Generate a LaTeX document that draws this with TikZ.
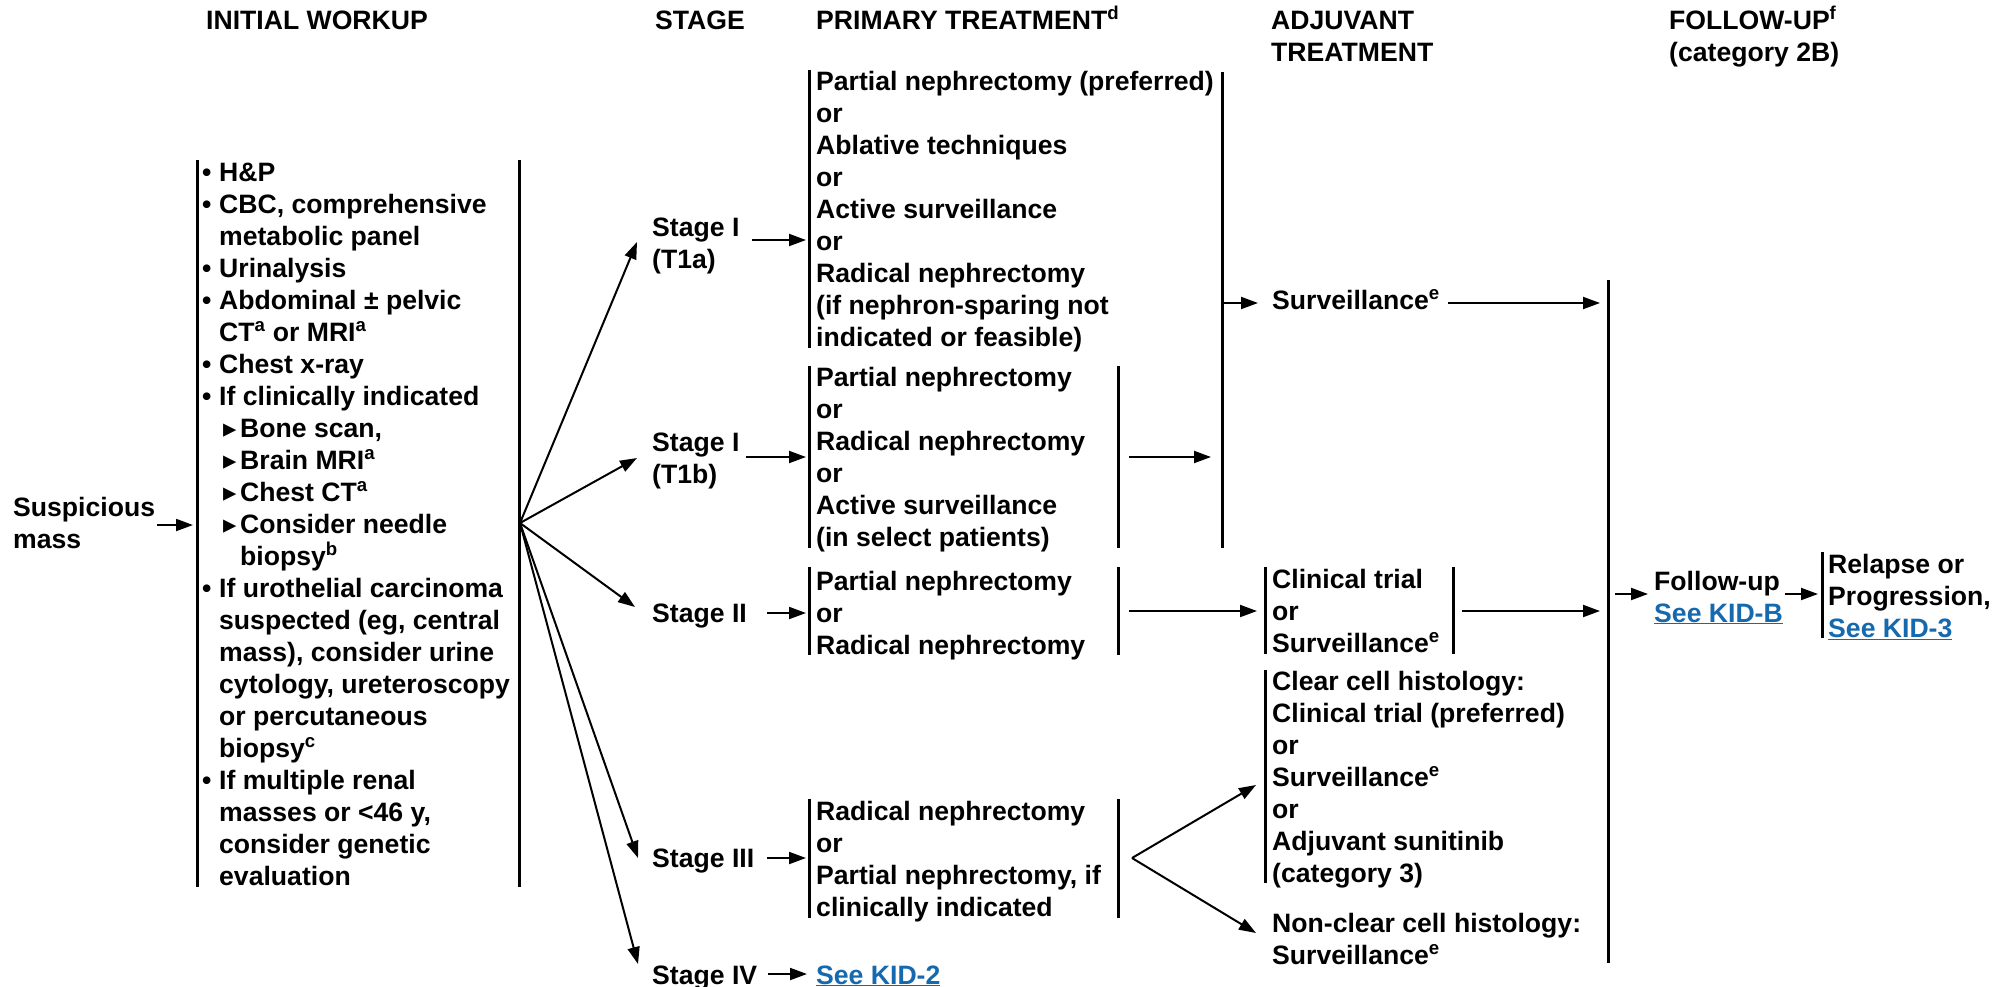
\documentclass[tikz,border=0pt]{standalone}
\usepackage{fontspec}
\setmainfont{Liberation Sans}
\newfontfamily\symfont{DejaVu Sans}
\usetikzlibrary{arrows.meta, positioning}
\definecolor{linkblue}{RGB}{20,105,175}
\newcommand{\seelink}[1]{\textcolor{linkblue}{\underline{#1}}}
\newcommand{\bul}{\makebox[17pt][l]{\textbullet}}
\newcommand{\tri}{\hspace*{4pt}\makebox[17pt][l]{\symfont ▸}}
\newcommand{\ind}{\hspace*{17pt}}

\begin{document}
\begin{tikzpicture}[x=1pt, y=-1pt,
  txt/.style={anchor=base west, align=left, inner sep=0pt, font=\fontsize{26.6}{32}\selectfont\bfseries},
  bar/.style={line width=3pt},
  arr/.style={line width=2pt, -{Triangle[length=17pt,width=12pt]}}]
\useasboundingbox (0,0) rectangle (1994,986);
%column headings (nodes sit on the baseline of their last line)
\node[txt] (hwork) at (206,29) {INITIAL WORKUP};
\node[txt] (hstage) at (655,29) {STAGE};
\node[txt] (hprim) at (816,29) {PRIMARY TREATMENT\textsuperscript{d}};
\node[txt] (hadj) at (1271,61) {ADJUVANT\\TREATMENT};
\node[txt] (hfol) at (1669,61) {FOLLOW-UP\textsuperscript{f}\\(category 2B)};
%initial workup
\node[txt] (mass) at (13,548) {Suspicious\\mass};
\node[txt] (work) at (202,885) {\bul H\&P\\
  \bul CBC, comprehensive\\
  \ind metabolic panel\\
  \bul Urinalysis\\
  \bul Abdominal ± pelvic\\
  \ind CT\textsuperscript{a} or MRI\textsuperscript{a}\\
  \bul Chest x-ray\\
  \bul If clinically indicated\\
  \ind\tri Bone scan,\\
  \ind\tri Brain MRI\textsuperscript{a}\\
  \ind\tri Chest CT\textsuperscript{a}\\
  \ind\tri Consider needle\\
  \ind\hspace*{21pt}biopsy\textsuperscript{b}\\
  \bul If urothelial carcinoma\\
  \ind suspected (eg, central\\
  \ind mass), consider urine\\
  \ind cytology, ureteroscopy\\
  \ind or percutaneous\\
  \ind biopsy\textsuperscript{c}\\
  \bul If multiple renal\\
  \ind masses or <46 y,\\
  \ind consider genetic\\
  \ind evaluation};
\draw[bar] (197,160) -- (197,887);
\draw[bar] (519,160) -- (519,887);
\coordinate (mass-out) at (157,525);
\coordinate (work-in) at (193,525);
\draw[arr] (mass-out) -- (work-in);
%stages
\node[txt] (s1a) at (652,268) {Stage I\\(T1a)};
\node[txt] (s1b) at (652,483) {Stage I\\(T1b)};
\node[txt] (s2) at (652,622) {Stage II};
\node[txt] (s3) at (652,867) {Stage III};
\node[txt] (s4) at (652,984) {Stage IV};
\coordinate (fan) at (520,523);
\coordinate (in1a) at (637,242);
\coordinate (in1b) at (637,458);
\coordinate (in2) at (635,607);
\coordinate (in3) at (638,858);
\coordinate (in4) at (638,964);
\foreach \t in {in1a,in1b,in2,in3,in4}
  \draw[arr] (fan) -- (\t);
%primary treatment
\node[txt] (p1a) at (816,346) {Partial nephrectomy (preferred)\\or\\Ablative techniques\\or\\Active surveillance\\or\\Radical nephrectomy\\(if nephron-sparing not\\indicated or feasible)};
\node[txt] (p1b) at (816,546) {Partial nephrectomy\\or\\Radical nephrectomy\\or\\Active surveillance\\(in select patients)};
\node[txt] (p2) at (816,654) {Partial nephrectomy\\or\\Radical nephrectomy};
\node[txt] (p3) at (816,916) {Radical nephrectomy\\or\\Partial nephrectomy, if\\clinically indicated};
\node[txt] (kid2) at (816,984) {\seelink{See KID-2}};
\draw[bar] (809,70) -- (809,348);
\draw[bar] (1222,72) -- (1222,548);
\draw[bar] (809,366) -- (809,548);
\draw[bar] (1118,366) -- (1118,548);
\draw[bar] (809,567) -- (809,655);
\draw[bar] (1118,567) -- (1118,655);
\draw[bar] (809,799) -- (809,918);
\draw[bar] (1118,799) -- (1118,918);
\coordinate (s1a-out) at (752,240);
\coordinate (p1a-in) at (806,240);
\coordinate (s1b-out) at (746,457);
\coordinate (p1b-in) at (806,457);
\coordinate (s2-out) at (767,613);
\coordinate (p2-in) at (806,613);
\coordinate (s3-out) at (767,858);
\coordinate (p3-in) at (806,858);
\coordinate (s4-out) at (768,974);
\coordinate (kid2-in) at (807,974);
\draw[arr] (s1a-out) -- (p1a-in);
\draw[arr] (s1b-out) -- (p1b-in);
\draw[arr] (s2-out) -- (p2-in);
\draw[arr] (s3-out) -- (p3-in);
\draw[arr] (s4-out) -- (kid2-in);
%adjuvant treatment
\node[txt] (surv) at (1272,309) {Surveillance\textsuperscript{e}};
\node[txt] (ct) at (1272,652) {Clinical trial\\or\\Surveillance\textsuperscript{e}};
\node[txt] (cc) at (1272,882) {Clear cell histology:\\Clinical trial (preferred)\\or\\Surveillance\textsuperscript{e}\\or\\Adjuvant sunitinib\\(category 3)};
\node[txt] (ncc) at (1272,964) {Non-clear cell histology:\\Surveillance\textsuperscript{e}};
\draw[bar] (1265,567) -- (1265,654);
\draw[bar] (1453,567) -- (1453,654);
\draw[bar] (1265,670) -- (1265,883);
\coordinate (p1b-out) at (1129,457);
\coordinate (tall-in) at (1211,457);
\coordinate (tall-out) at (1224,303);
\coordinate (surv-in) at (1258,303);
\coordinate (p2-out) at (1129,611);
\coordinate (ct-in) at (1257,611);
\coordinate (split) at (1132,858);
\coordinate (cc-in) at (1256,785);
\coordinate (ncc-in) at (1256,933);
\draw[arr] (p1b-out) -- (tall-in);
\draw[arr] (tall-out) -- (surv-in);
\draw[arr] (p2-out) -- (ct-in);
\draw[arr] (split) -- (cc-in);
\draw[arr] (split) -- (ncc-in);
%follow-up
\draw[bar] (1608,280) -- (1608,963);
\node[txt] (fol) at (1654,622) {Follow-up\\\seelink{See KID-B}};
\node[txt] (rel) at (1828,637) {Relapse or\\Progression,\\\seelink{See KID-3}};
\draw[bar] (1822,552) -- (1822,638);
\coordinate (surv-out) at (1448,303);
\coordinate (fbar-a) at (1600,303);
\coordinate (ct-out) at (1462,611);
\coordinate (fbar-b) at (1600,611);
\coordinate (fbar-out) at (1615,594);
\coordinate (fol-in) at (1648,594);
\coordinate (fol-out) at (1785,594);
\coordinate (rel-in) at (1818,594);
\draw[arr] (surv-out) -- (fbar-a);
\draw[arr] (ct-out) -- (fbar-b);
\draw[arr] (fbar-out) -- (fol-in);
\draw[arr] (fol-out) -- (rel-in);
\end{tikzpicture}
\end{document}
